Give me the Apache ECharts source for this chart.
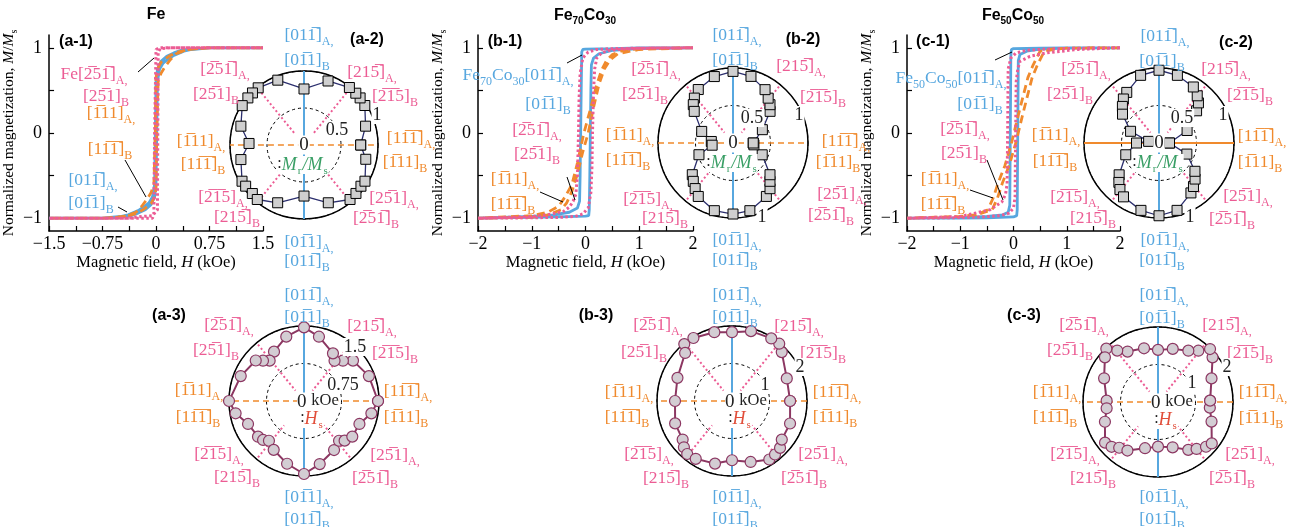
<!DOCTYPE html>
<html><head><meta charset="utf-8">
<script src="https://cdn.jsdelivr.net/npm/echarts@6/dist/echarts.min.js"></script>
<style>html,body{margin:0;padding:0;background:#fff}#c{width:1297px;height:527px}</style>
</head><body><div id="c"></div>
<script>
// ===================== DATA =====================
// Hysteresis loops: [H (kOe), M/Ms], descending branch then ascending branch
const feBlue = [[1.5,1],[0.75,1],[0.5,0.99],[0.35,0.97],[0.25,0.94],[0.15,0.9],[0.07,0.84],[0.02,0.75],[0,0.6],[-0.01,0],[-0.02,-0.6],[-0.05,-0.75],[-0.1,-0.82],[-0.16,-0.86],[-0.25,-0.91],[-0.39,-0.96],[-0.5,-0.98],[-0.75,-1],[-1.5,-1],
  [-0.75,-1],[-0.5,-0.99],[-0.35,-0.97],[-0.25,-0.94],[-0.15,-0.9],[-0.07,-0.84],[-0.02,-0.75],[0,-0.6],[0.01,0],[0.02,0.6],[0.05,0.75],[0.1,0.82],[0.16,0.86],[0.25,0.91],[0.39,0.96],[0.5,0.98],[0.75,1],[1.5,1]];
const feOrange = [[1.5,1],[0.75,1],[0.5,0.985],[0.3,0.95],[0.18,0.9],[0.07,0.83],[0.02,0.75],[0,0.65],[-0.01,0],[-0.03,-0.6],[-0.07,-0.7],[-0.12,-0.77],[-0.2,-0.86],[-0.28,-0.93],[-0.45,-0.98],[-0.75,-1],[-1.5,-1],
  [-0.75,-1],[-0.45,-0.985],[-0.3,-0.95],[-0.18,-0.9],[-0.07,-0.83],[-0.02,-0.75],[0,-0.65],[0.01,0],[0.03,0.6],[0.07,0.7],[0.12,0.77],[0.2,0.86],[0.28,0.93],[0.45,0.98],[0.75,1],[1.5,1]];
const fePink = [[1.5,1],[0.05,1],[0,0.98],[-0.02,0],[-0.03,-0.95],[-0.05,-1],[-1.5,-1],
  [-0.4,-1],[-0.2,-0.98],[-0.05,-0.97],[0.02,-0.9],[0.03,0.95],[0.06,0.99],[0.2,1],[1.5,1]];

const c70Blue = [[2,1],[1,1],[0.5,0.99],[0,0.985],[-0.05,0.98],[-0.07,0.95],[-0.08,0.5],[-0.09,0],[-0.1,-0.5],[-0.11,-0.8],[-0.15,-0.88],[-0.3,-0.93],[-0.6,-0.96],[-1,-0.98],[-2,-1],
  [-1,-0.99],[-0.5,-0.985],[0,-0.975],[0.06,-0.97],[0.07,-0.9],[0.08,-0.5],[0.09,0],[0.1,0.5],[0.11,0.8],[0.15,0.88],[0.25,0.93],[0.5,0.97],[1,0.99],[2,1]];
const c70Pink = [[2,1],[1,0.995],[0.5,0.99],[0.2,0.98],[0.05,0.95],[-0.05,0.88],[-0.1,0.7],[-0.12,0.4],[-0.13,0],[-0.15,-0.5],[-0.18,-0.72],[-0.23,-0.8],[-0.3,-0.87],[-0.41,-0.92],[-0.7,-0.96],[-1,-0.98],[-2,-1],
  [-1,-0.995],[-0.5,-0.99],[-0.2,-0.98],[-0.05,-0.95],[0.05,-0.88],[0.1,-0.7],[0.12,-0.4],[0.13,0],[0.15,0.5],[0.17,0.75],[0.21,0.88],[0.3,0.94],[0.45,0.97],[0.7,0.985],[1,0.995],[2,1]];
const c70Orange = [[2,1],[1,0.99],[0.7,0.97],[0.5,0.92],[0.4,0.86],[0.3,0.74],[0.2,0.55],[0.1,0.3],[-0.03,0],[-0.15,-0.35],[-0.25,-0.6],[-0.38,-0.75],[-0.5,-0.86],[-0.7,-0.93],[-1,-0.97],[-2,-1],
  [-1,-0.99],[-0.7,-0.96],[-0.45,-0.9],[-0.35,-0.82],[-0.25,-0.68],[-0.15,-0.48],[-0.05,-0.22],[0.05,0],[0.15,0.3],[0.25,0.57],[0.35,0.75],[0.46,0.86],[0.6,0.93],[1,0.98],[2,1]];

const c50Blue = [[2,1],[1,1],[0.5,0.995],[0,0.99],[-0.04,0.98],[-0.05,0.9],[-0.06,0],[-0.07,-0.85],[-0.1,-0.93],[-0.2,-0.96],[-0.5,-0.98],[-1,-0.995],[-2,-1],
  [-1,-1],[-0.5,-0.995],[0,-0.985],[0.06,-0.97],[0.07,-0.9],[0.08,0],[0.09,0.85],[0.12,0.92],[0.25,0.96],[0.5,0.985],[1,0.995],[2,1]];
const c50Pink = [[2,1],[1.2,0.995],[0.6,0.985],[0.25,0.97],[0.05,0.94],[-0.05,0.88],[-0.1,0.75],[-0.11,0],[-0.12,-0.6],[-0.15,-0.72],[-0.22,-0.81],[-0.44,-0.9],[-1,-0.98],[-2,-1],
  [-1.2,-0.995],[-0.6,-0.985],[-0.25,-0.97],[-0.08,-0.94],[0,-0.88],[0.03,-0.75],[0.04,0],[0.05,0.6],[0.08,0.75],[0.12,0.84],[0.31,0.9],[0.62,0.94],[1.2,0.98],[2,1]];
const c50Orange = [[2,1],[1,0.995],[0.7,0.985],[0.5,0.96],[0.37,0.8],[0.27,0.65],[0.18,0.43],[0.09,0.21],[-0.03,-0.1],[-0.16,-0.38],[-0.29,-0.59],[-0.38,-0.76],[-0.48,-0.9],[-0.7,-0.96],[-1,-0.98],[-2,-1],
  [-1,-0.98],[-0.7,-0.96],[-0.4,-0.9],[-0.3,-0.76],[-0.21,-0.59],[-0.08,-0.38],[0.05,-0.1],[0.17,0.21],[0.26,0.43],[0.35,0.65],[0.45,0.8],[0.58,0.96],[0.8,0.985],[1,0.995],[2,1]];

// Polar data: [angle (deg), value]
const feMr = [[0,0.766],[17,0.87],[33,0.98],[40,0.99],[45,0.99],[51.7,0.99],[69.4,0.924],[90,0.757],[112,0.945],[128.7,0.99],[134.7,0.99],[140,0.99],[147.5,0.99],[163.4,0.89],[178.4,0.743],[193,0.875],[210.3,0.97],[215.2,0.965],[223.2,0.958],[229.4,0.97],[245.5,0.858],[270,0.69],[292.8,0.847],[310.2,0.964],[317,0.96],[324.1,0.95],[329.3,0.958],[347,0.857]];
const c70Mr = [[0,0.27],[24.4,0.43],[40.5,0.65],[46,0.71],[51.9,0.76],[59,0.83],[74.9,0.92],[90,0.955],[105.7,0.92],[123,0.85],[130.7,0.79],[136,0.736],[140.8,0.667],[159.7,0.445],[176,0.29],[186,0.28],[199,0.48],[217.9,0.688],[224,0.736],[230.3,0.79],[237,0.85],[254.6,0.936],[270,0.947],[284,0.93],[302,0.84],[309,0.784],[314,0.71],[319.4,0.65],[338,0.42],[355,0.28]];
const c50Mr = [[0,0.14],[24,0.41],[40.6,0.66],[45.5,0.75],[51,0.81],[58.5,0.876],[74.8,0.935],[90,0.97],[105.2,0.935],[122.5,0.8],[129,0.755],[135,0.69],[141.7,0.62],[157.6,0.41],[171,0.14],[180,0.3],[199.5,0.47],[218.6,0.68],[224.5,0.75],[230,0.81],[236.6,0.86],[255,0.93],[270,0.97],[285,0.93],[302.6,0.79],[308.4,0.74],[315,0.68],[321.8,0.61],[338.3,0.4]];
const feHs = [[0,1.48],[21,1.39],[39.5,1.27],[46,1.12],[52.8,1.01],[58.7,1.115],[76.9,1.32],[90,1.473],[105.4,1.335],[121.3,1.155],[130.4,1.06],[135.5,1.15],[140,1.26],[158.5,1.36],[180,1.5],[190.2,1.39],[202.3,1.21],[217.8,1.164],[223.6,1.13],[228.6,1.06],[238.2,1.15],[254.9,1.3],[270,1.46],[284,1.3],[301.5,1.15],[311.4,1.06],[315.7,1.135],[323.6,1.2],[337.5,1.2],[349.6,1.37]];
const c70Hs = [[0,1.55],[22.4,1.58],[44.5,1.86],[50.5,1.98],[57.9,1.97],[74.8,1.93],[90,1.835],[104.4,1.895],[121.5,1.97],[130,1.98],[134.3,1.79],[157,1.58],[180,1.52],[201.5,1.63],[218,1.67],[223.9,1.78],[229.8,1.85],[237.9,1.82],[254.8,1.73],[270,1.58],[287,1.7],[302.5,1.85],[308.8,1.83],[315.7,1.79],[322.2,1.68],[338.8,1.66]];
const c50Hs = [[1.5,1.39],[23.8,1.56],[39.3,1.88],[45.5,1.98],[51.8,1.74],[59.4,1.59],[74.5,1.47],[90,1.39],[104.6,1.48],[121.1,1.57],[128.4,1.75],[134.1,1.98],[139.9,1.85],[156.3,1.57],[178.5,1.37],[187,1.38],[200.4,1.51],[217.5,1.78],[224,1.72],[229.7,1.6],[237.8,1.53],[254.3,1.28],[270,1.19],[287.9,1.27],[302.3,1.51],[309.4,1.62],[317,1.75],[322.4,1.81],[339.9,1.52],[353.8,1.39]];

// Tick values / labels
const feXTicks = [-1.5,-1.125,-0.75,-0.375,0,0.375,0.75,1.125,1.5];
const feXLabels = [-1.5,-0.75,0,0.75,1.5];
const coXTicks = [-2,-1.5,-1,-0.5,0,0.5,1,1.5,2];
const coXLabels = [-2,-1,0,1,2];
const yTicks = [-1,-0.5,0,0.5,1];
const yLabels = [-1,0,1];
const titles = ['Fe', '{b|Fe}{bs|70}{b|Co}{bs|30}', '{b|Fe}{bs|50}{b|Co}{bs|50}'];
const panelNames = ['(a-1)','(b-1)','(c-1)','(a-2)','(b-2)','(c-2)','(a-3)','(b-3)','(c-3)'];
const radLabels = [[['0.5',0.5],['1',1]], [['0.5',0.5],['1',1],['1',1]], [['0.5',0.5],['1',1],['1',1]],
                   [['0.75',0.75],['1.5',1.5]], [['1',1],['2',2]], [['1',1],['2',2]]];
// direction labels (~ marks an overlined digit)
const DIR = {
  T:  {k:'blue',   A:'[01~1]',  B:'[0~11]'},
  B:  {k:'blue',   A:'[0~11]',  B:'[01~1]'},
  L:  {k:'orange', A:'[~111]',  B:'[1~1~1]'},
  R:  {k:'orange', A:'[1~1~1]', B:'[~111]'},
  UL: {k:'pink',   A:'[~25~1]', B:'[2~51]'},
  UR: {k:'pink',   A:'[21~5]',  B:'[~2~15]'},
  LL: {k:'pink',   A:'[~2~15]', B:'[21~5]'},
  LR: {k:'pink',   A:'[2~51]',  B:'[~25~1]'}
};
const ANG = {blue:[90,270], orange:[0,180], pinkUp:[50.8,129.2], pinkLow:[230.8,309.2]};

// ===================== LAYOUT / STYLE =====================
const SERIF = 'Liberation Serif', SANS = 'Liberation Sans';
const C = {blue:'#57a7df', orange:'#f08a2d', pink:'#ec5c94', green:'#3a9f66', red:'#e14e3a', navy:'#2c2f6e', maroon:'#8c3762'};
const grids = [{left:48,top:35,width:215,height:196},{left:478,top:35,width:215,height:196},{left:907,top:35,width:213,height:196}];
const polars = [
  {c:[304,145], r:74, max:1,   step:0.5,  ext:1.08, solidOrange:false},
  {c:[733,143], r:75, max:1,   step:0.5,  ext:1.08, solidOrange:false},
  {c:[1159,143],r:75, max:1,   step:0.5,  ext:1.0,  solidOrange:true},
  {c:[304,401], r:75, max:1.5, step:0.75, ext:1.0,  solidOrange:false},
  {c:[732,401], r:75, max:2,   step:1,    ext:1.0,  solidOrange:false},
  {c:[1158,402],r:75, max:2,   step:1,    ext:1.0,  solidOrange:false}
];
const labelPos = [
 {T:[309,33,307,58],B:[309,240,307,259],L:[201,139,203,162],R:[411,136,405,160],UL:[225,67,216,92],UR:[372,70,395,94],LL:[223,195,237,215],LR:[394,196,376,216]},
 {T:[737,33,735,58],B:[737,238,735,258],L:[630,133,628,158],R:[846,139,838,160],UL:[656,67,645,92],UR:[801,64,823,95],LL:[648,197,665,216],LR:[842,192,831,213]},
 {T:[1165,34,1162,59],B:[1165,238,1162,258],L:[1056,133,1055,159],R:[1262,134,1260,160],UL:[1086,67,1070,92],UR:[1226,67,1250,93],LL:[1075,195,1093,216],LR:[1248,194,1232,217]},
 {T:[309,293,307,315],B:[309,495,307,517],L:[199,388,198,415],R:[408,389,406,415],UL:[229,323,216,348],UR:[372,324,395,351],LL:[219,452,237,475],LR:[395,453,375,476]},
 {T:[737,293,735,315],B:[737,495,735,517],L:[629,390,627,415],R:[837,390,835,415],UL:[658,323,644,350],UR:[799,324,823,351],LL:[649,452,666,476],LR:[823,452,804,476]},
 {T:[1164,293,1162,316],B:[1164,495,1162,517],L:[1057,390,1055,415],R:[1263,390,1261,416],UL:[1084,323,1070,348],UR:[1227,323,1250,351],LL:[1075,452,1093,476],LR:[1250,452,1232,476]}
];
const radLabelPos = [[[337,130],[377,115]], [[752,118],[799,115],[762,217]], [[1182,118],[1223,115],[1190,217]],
                     [[343,385],[355,347]], [[765,385],[800,367]], [[1192,383],[1227,367]]];
const titlePos = [[156,15],[585,15],[1013,15]];
const panelPos = [[76,42],[505,42],[933,42],[367,40],[803,40],[1236,43],[169,316],[596,316],[1024,316]];

// ===================== BUILD =====================
const bar = s => s.replace(/~(\d)/g, '$1\u0305');
const fmt = v => String(v).replace('-', '\u2212');
const RICH = {
  m:{fontFamily:SERIF, fontSize:17.5, lineHeight:17, verticalAlign:'top'},
  s:{fontFamily:SERIF, fontSize:12, lineHeight:12, padding:[9,0,0,0], verticalAlign:'top'},
  b:{fontFamily:SANS, fontWeight:'bold', fontSize:16, lineHeight:16, verticalAlign:'top'},
  bs:{fontFamily:SANS, fontWeight:'bold', fontSize:10, lineHeight:10, padding:[8,0,0,0], verticalAlign:'top'},
  g:{fontFamily:SERIF, fontStyle:'italic', fontSize:18, lineHeight:18, verticalAlign:'top'},
  gs:{fontFamily:SERIF, fontSize:11, lineHeight:11, padding:[10,1,0,1], verticalAlign:'top'},
  k:{fontFamily:SERIF, fontSize:16, lineHeight:18, verticalAlign:'top', fill:'#222'},
  z:{fontFamily:SERIF, fontSize:19, lineHeight:19, verticalAlign:'top', fill:'#222'},
  ko:{fontFamily:SERIF, fontSize:16.5, lineHeight:19, verticalAlign:'top', fill:'#222'}
};
const G = [];
function txt(x, y, text, fill, extra) {
  G.push({type:'text', x, y, z:100, zlevel:0, silent:true,
    style:Object.assign({text, fill, font:`16px "${SERIF}"`, textAlign:'center', textVerticalAlign:'middle', align:'center', verticalAlign:'middle', rich:RICH}, extra||{})});
}
function line(x1,y1,x2,y2){ G.push({type:'line', z:90, silent:true, shape:{x1,y1,x2,y2}, style:{stroke:'#000', lineWidth:1}}); }
function millerPair(p, k, A, B, prefix) {
  txt(p[0], p[1]+2, (prefix||'') + `{m|${bar(A)}}{s|A,}`, C[k]);
  txt(p[2], p[3]+2, `{m|${bar(B)}}{s|B}`, C[k]);
}

// titles & panel labels
titles.forEach((t,i)=> txt(titlePos[i][0], titlePos[i][1]+(i?1:0), i? t : `{b|${t}}`, '#000', {font:`bold 16px "${SANS}"`}));
panelNames.forEach((t,i)=> txt(panelPos[i][0], panelPos[i][1], t, '#000', {font:`bold 16px "${SANS}"`}));

// legend labels on the loops
millerPair([94,72,106,94], 'pink', DIR.UL.A, DIR.UL.B, '{m|Fe}');
millerPair([111,111,110,147], 'orange', DIR.L.A, DIR.L.B);
millerPair([93,178,91,201], 'blue', DIR.T.A, DIR.T.B);
line(138,72,154,58); line(125,160,146,197); line(118,207,127,212);
millerPair([518,73,548,102], 'blue', DIR.T.A, DIR.T.B, '{m|Fe}{s|70}{m|Co}{s|30}');
millerPair([537,128,537,152], 'pink', DIR.UL.A, DIR.UL.B);
millerPair([515,177,513,202], 'orange', DIR.L.A, DIR.L.B);
line(567,63,582,55); line(567,177,575,200); line(540,192,563,202);
millerPair([951,76,980,102], 'blue', DIR.T.A, DIR.T.B, '{m|Fe}{s|50}{m|Co}{s|50}');
millerPair([965,127,964,151], 'pink', DIR.UL.A, DIR.UL.B);
millerPair([945,177,943,202], 'orange', DIR.L.A, DIR.L.B);
line(995,60,1012,52); line(987,160,1003,200); line(970,190,993,198);

// polar direction labels, radius labels, centre labels
labelPos.forEach((lp,i)=>{
  Object.keys(lp).forEach(d=> millerPair(lp[d], DIR[d].k, DIR[d].A, DIR[d].B));
  radLabels[i].forEach((rl,j)=> txt(radLabelPos[i][j][0], radLabelPos[i][j][1], rl[0], '#222', {font:`18px "${SERIF}"`, backgroundColor:'#fff', padding:[0,1]}));
  const [cx, cy] = polars[i].c;
  if (i < 3) {
    txt(cx, cy, '0', '#222', {font:`19px "${SERIF}"`, backgroundColor:'#fff', padding:[0,1]});
    txt(cx-1, cy+20, '{k|:}{g|M}{gs|r}{g|/M}{gs|s}', C.green, {backgroundColor:'#fff'});
  } else {
    txt(cx-7, cy+1, '{z|0 }{ko|kOe}', '#222', {textAlign:'left', align:'left', backgroundColor:'#fff'});
    txt(cx+8, cy+18, '{k|:}{g|H}{gs|s}', C.red, {backgroundColor:'#fff'});
  }
});

// ---- axes ----
const xAxis = [], yAxis = [];
grids.forEach((g,i)=>{
  const fe = i===0;
  xAxis.push({gridIndex:i, type:'value', min:fe?-1.5:-2, max:fe?1.5:2,
    axisLine:{onZero:false, lineStyle:{color:'#000', width:1.5}},
    axisTick:{inside:true, length:5, customValues:fe?feXTicks:coXTicks, lineStyle:{color:'#000', width:1.2}},
    axisLabel:{customValues:fe?feXLabels:coXLabels, color:'#000', fontFamily:SERIF, fontSize:18, margin:4, formatter:fmt},
    splitLine:{show:false},
    name:'Magnetic field, {i|H} (kOe)', nameLocation:'middle', nameGap:18,
    nameTextStyle:{color:'#000', fontFamily:SERIF, fontSize:16.5, rich:{i:{fontFamily:SERIF, fontStyle:'italic', fontSize:16.5, color:'#000'}}}});
  yAxis.push({gridIndex:i, type:'value', min:-1.15, max:1.15,
    axisLine:{onZero:false, lineStyle:{color:'#000', width:1.5}},
    axisTick:{inside:true, length:5, customValues:yTicks, lineStyle:{color:'#000', width:1.2}},
    axisLabel:{customValues:yLabels, color:'#000', fontFamily:SERIF, fontSize:18, margin:7, formatter:fmt},
    splitLine:{show:false},
    name:'{n|Normalized magnetization, }{i|M}{n|/}{i|M}{s|s}', nameLocation:'middle', nameGap:19, nameRotate:90,
    nameTextStyle:{color:'#000', rich:{n:{fontFamily:SERIF, fontSize:15.5, color:'#000', verticalAlign:'top', lineHeight:16},
      i:{fontFamily:SERIF, fontStyle:'italic', fontSize:15.5, color:'#000', verticalAlign:'top', lineHeight:16},
      s:{fontFamily:SERIF, fontSize:10, color:'#000', verticalAlign:'top', lineHeight:10, padding:[8,0,0,0]}}}});
});

// ---- series ----
const series = [];
const LS = {
  blue:{color:C.blue, width:2.8, type:'solid'},
  orange:{color:C.orange, width:2.8, type:[8,5]},
  pink:{color:C.pink, width:3, type:[2.5,2.5]}
};
[[feBlue,feOrange,fePink],[c70Blue,c70Orange,c70Pink],[c50Blue,c50Orange,c50Pink]].forEach((set,g)=>{
  ['blue','orange','pink'].forEach((k,j)=>{
    series.push({type:'line', xAxisIndex:g, yAxisIndex:g, data:set[j], symbol:'none', smooth:false, clip:false,
      lineStyle:LS[k], z:2+j, silent:true});
  });
});
const polarData = [feMr, c70Mr, c50Mr, feHs, c70Hs, c50Hs];
const polar = [], angleAxis = [], radiusAxis = [];
polars.forEach((p,i)=>{
  polar.push({center:p.c, radius:p.r});
  angleAxis.push({polarIndex:i, type:'value', min:0, max:360, startAngle:0, clockwise:false,
    axisLine:{show:true, lineStyle:{color:'#000', width:1.5}}, axisTick:{show:false}, axisLabel:{show:false}, splitLine:{show:false}});
  radiusAxis.push({polarIndex:i, type:'value', min:0, max:p.max, interval:p.step,
    axisLine:{show:false}, axisTick:{show:false}, axisLabel:{show:false},
    splitLine:{show:true, showMaxLine:false, lineStyle:{color:'#000', width:1, type:[3,3]}}});
  const m = p.max;
  const ref = (data, ls, z) => series.push({type:'line', coordinateSystem:'polar', polarIndex:i, data, symbol:'none', clip:false, silent:true, lineStyle:ls, z});
  ref([[m, ANG.blue[0]],[m, ANG.blue[1]]], {color:C.blue, width:2}, 1);
  ref([[m*p.ext, ANG.orange[0]],[m*p.ext, ANG.orange[1]]], {color:C.orange, width:p.solidOrange?2:1.7, type:p.solidOrange?'solid':[6,4]}, 1);
  ANG.pinkUp.forEach(a=> ref([[m*0.97,a],[m*0.18,a]], {color:C.pink, width:2, type:[2,2.5]}, 1));
  ANG.pinkLow.forEach(a=> ref([[m*0.97,a],[m*0.42,a]], {color:C.pink, width:2, type:[2,2.5]}, 1));
  const d = polarData[i].map(v=>[v[1], v[0]]);
  d.push(d[0]);
  const isM = i < 3;
  series.push({type:'line', coordinateSystem:'polar', polarIndex:i, data:d, clip:false, silent:true, z:5,
    symbol:isM?'rect':'circle', symbolSize:isM?10:11, showAllSymbol:true,
    lineStyle:{color:isM?C.navy:C.maroon, width:isM?1.3:2},
    itemStyle:{color:isM?'#cfcfcf':'#d3cdd3', borderColor:isM?'#000':C.maroon, borderWidth:isM?1:1.2}});
});

const chart = echarts.init(document.getElementById('c'), null, {renderer:'canvas', width:1297, height:527});
chart.setOption({
  animation:false, backgroundColor:'#fff',
  grid:grids, xAxis, yAxis, polar, angleAxis, radiusAxis, series,
  graphic:{elements:G}
});
</script></body></html>
